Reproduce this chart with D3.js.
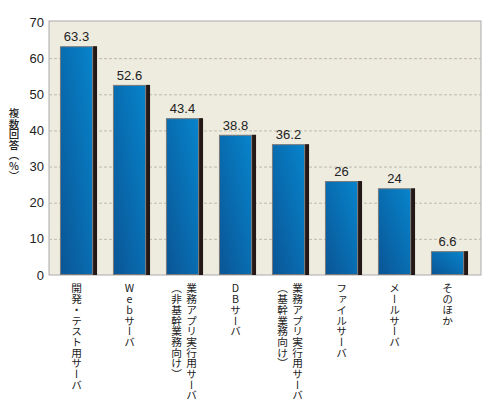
<!DOCTYPE html>
<html><head><meta charset="utf-8">
<script src="https://cdn.jsdelivr.net/npm/d3@7"></script>
<style>
html,body{margin:0;padding:0;background:#fff;}
.vt{writing-mode:vertical-rl;text-orientation:upright;}
</style>
</head><body>
<svg id="c" width="490" height="420"></svg>
<script>
const categories = ["開発・テスト用サーバ","Webサーバ","業務アプリ実行用サーバ（非基幹業務向け）","DBサーバ","業務アプリ実行用サーバ（基幹業務向け）","ファイルサーバ","メールサーバ","そのほか"];
const labelLines = [["開発・テスト用サーバ"],["Webサーバ"],["業務アプリ実行用サーバ","（非基幹業務向け）"],["DBサーバ"],["業務アプリ実行用サーバ","（基幹業務向け）"],["ファイルサーバ"],["メールサーバ"],["そのほか"]];
const values = [63.3,52.6,43.4,38.8,36.2,26,24,6.6];
const valueLabels = ["63.3","52.6","43.4","38.8","36.2","26","24","6.6"];
const yTicks = [0,10,20,30,40,50,60,70];
const yTitle = "複数回答（%）";

const svg = d3.select("#c");
const plot = {l:49, r:481, t:22, b:275};
const x = d3.scaleBand().domain(categories).range([52,476]).paddingInner(0.3).paddingOuter(0.15);
const y = d3.scaleLinear().domain([0,70]).range([plot.b, plot.t]);

const defs = svg.append("defs");
const g = defs.append("linearGradient").attr("id","bg").attr("x1",0).attr("y1",1).attr("x2",1).attr("y2",0);
g.append("stop").attr("offset","0%").attr("stop-color","#0a5595");
g.append("stop").attr("offset","100%").attr("stop-color","#0784cc");

svg.append("rect").attr("x",plot.l).attr("y",y(70)-1).attr("width",plot.r-plot.l).attr("height",plot.b-y(70)+1)
  .attr("fill","#eeebdf").attr("stroke","#aaa").attr("stroke-width",1);

svg.append("g").selectAll("line").data(yTicks.filter(d=>d>0&&d<70)).join("line")
  .attr("x1",plot.l).attr("x2",plot.r).attr("y1",d=>y(d)+0.5).attr("y2",d=>y(d)+0.5)
  .attr("stroke","#bdbab0").attr("stroke-dasharray","3,2").attr("stroke-width",1);

// y ticks
svg.append("g").selectAll("text").data(yTicks).join("text")
  .attr("x",44).attr("y",d=>y(d)).attr("text-anchor","end").attr("dominant-baseline","central")
  .attr("font-family","Liberation Sans, Arial, sans-serif").attr("font-size",13).attr("fill","#222")
  .text(d=>d);

const shadowW = 4;
const bw = x.bandwidth() - shadowW;
const bars = svg.append("g").selectAll("g").data(categories).join("g");
bars.append("rect").attr("x",(d)=>x(d)+bw).attr("y",(d,i)=>y(values[i])).attr("width",shadowW)
  .attr("height",(d,i)=>y(0)-y(values[i])).attr("fill","#231815");
bars.append("rect").attr("x",d=>x(d)+0.5).attr("y",(d,i)=>y(values[i])+0.5).attr("width",bw-1)
  .attr("height",(d,i)=>y(0)-y(values[i])-1).attr("fill","url(#bg)").attr("stroke","#7a7a7a").attr("stroke-width",1);
bars.append("text").attr("x",d=>x(d)+bw/2).attr("y",(d,i)=>y(values[i])-5).attr("text-anchor","middle")
  .attr("font-family","Liberation Sans, Arial, sans-serif").attr("font-size",13).attr("fill","#222")
  .text((d,i)=>valueLabels[i]);

// x labels (vertical)
categories.forEach((c,i)=>{
  const lines = labelLines[i];
  const cx = x(c) + bw/2 + (lines.length>1 ? 1.5 : 0);
  lines.forEach((ln,j)=>{
    const off = lines.length>1 ? (j===0 ? 7.5 : -7.5) : 0;
    svg.append("text").attr("class","vt").attr("x",cx+off).attr("y",283)
      .attr("font-family","Noto Sans CJK JP, sans-serif").attr("font-size",10.7).attr("fill","#222")
      .text(ln);
  });
});

svg.append("text").attr("class","vt").attr("x",14).attr("y",108)
  .attr("font-family","Noto Sans CJK JP, sans-serif").attr("font-size",10.5).attr("font-weight",500).attr("fill","#222")
  .text(yTitle);
</script>
</body></html>
